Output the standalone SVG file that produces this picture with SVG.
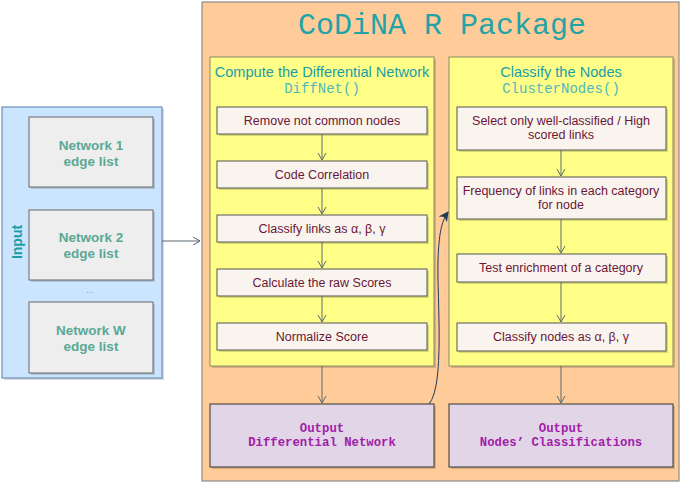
<svg xmlns="http://www.w3.org/2000/svg" width="683" height="484" viewBox="0 0 683 484">
<style>
.sh{fill:#000;opacity:0.15}
.pkg{fill:#ffcc99;stroke:#8a8a8a;stroke-width:1.2}
.in{fill:#cce5ff;stroke:#6c8ebf;stroke-width:1.2}
.net{fill:#eeeeee;stroke:#666;stroke-width:1}
.yel{fill:#ffff88;stroke:#8a8a66;stroke-width:1}
.step{fill:#f9f5ee;stroke:#555;stroke-width:1}
.out{fill:#e1d5e7;stroke:#333;stroke-width:1}
.nt{font-family:"Liberation Sans",Arial,sans-serif;font-weight:bold;font-size:13.5px;fill:#5aa896;text-anchor:middle}
.st{font-family:"Liberation Sans",Arial,sans-serif;font-size:12.5px;fill:#6b1538;text-anchor:middle}
.hd{font-family:"Liberation Sans",Arial,sans-serif;font-size:14.6px;fill:#1a9ea6;text-anchor:middle}
.fn{font-family:"Liberation Mono","Courier New",monospace;font-size:14px;fill:#4fb8bd;text-anchor:middle}
.ot{font-family:"Liberation Mono","Courier New",monospace;font-weight:bold;font-size:12.3px;fill:#a020a8;text-anchor:middle}
.ar{fill:none;stroke:#5a6a70;stroke-width:1}
</style>
<defs>
<marker id="v" markerWidth="10" markerHeight="10" refX="8" refY="5" orient="auto" markerUnits="userSpaceOnUse">
<path d="M1,1 L8,5 L1,9" fill="none" stroke="#5a6a70" stroke-width="1"/>
</marker>
<marker id="f" markerWidth="12" markerHeight="12" refX="9" refY="5" orient="auto" markerUnits="userSpaceOnUse">
<path d="M0,0 L10,5 L0,10 L3,5 Z" fill="#1e3a55"/>
</marker>
</defs>

<g id="package">
<rect class="pkg" x="202" y="2" width="477" height="479"/>
<text x="442" y="34" font-family="'Liberation Mono','Courier New',monospace" font-size="30" fill="#22a3a8" text-anchor="middle">CoDiNA R Package</text>
</g>

<g id="input">
<rect class="sh" x="4" y="109" width="160" height="271"/>
<rect class="in" x="2" y="107" width="160" height="271"/>
<text transform="translate(22,242) rotate(-90)" font-family="'Liberation Sans',Arial,sans-serif" font-weight="bold" font-size="14" fill="#1a9ea6" text-anchor="middle">Input</text>
<text x="90" y="293" font-family="'Liberation Sans',Arial,sans-serif" font-size="9" fill="#5aa896" text-anchor="middle">...</text>
</g>
<g id="net1">
<rect class="sh" x="31" y="119" width="124" height="70"/>
<rect class="net" x="29" y="117" width="124" height="70"/>
<text class="nt" x="91" y="150">Network 1</text>
<text class="nt" x="91" y="166">edge list</text>
</g>
<g id="net2">
<rect class="sh" x="31" y="212" width="124" height="70"/>
<rect class="net" x="29" y="210" width="124" height="70"/>
<text class="nt" x="91" y="242">Network 2</text>
<text class="nt" x="91" y="258">edge list</text>
</g>
<g id="netW">
<rect class="sh" x="31" y="304" width="124" height="71"/>
<rect class="net" x="29" y="302" width="124" height="71"/>
<text class="nt" x="91" y="335">Network W</text>
<text class="nt" x="91" y="351">edge list</text>
</g>

<g id="diffnet">
<rect class="sh" x="212" y="59" width="224" height="309"/>
<rect class="yel" x="210" y="57" width="224" height="309"/>
<text class="hd" x="322" y="77">Compute the Differential Network</text>
<text class="fn" x="322" y="93">DiffNet()</text>
</g>
<g id="cluster">
<rect class="sh" x="451" y="59" width="224" height="309"/>
<rect class="yel" x="449" y="57" width="224" height="309"/>
<text class="hd" x="561" y="77">Classify the Nodes</text>
<text class="fn" x="561" y="93">ClusterNodes()</text>
</g>

<g id="s1"><rect class="sh" x="219" y="109" width="210" height="27"/><rect class="step" x="217" y="107" width="210" height="27"/><text class="st" x="322" y="125">Remove not common nodes</text></g>
<g id="s2"><rect class="sh" x="219" y="163" width="210" height="27"/><rect class="step" x="217" y="161" width="210" height="27"/><text class="st" x="322" y="179">Code Correlation</text></g>
<g id="s3"><rect class="sh" x="219" y="217" width="210" height="27"/><rect class="step" x="217" y="215" width="210" height="27"/><text class="st" x="322" y="233">Classify links as α, β, γ</text></g>
<g id="s4"><rect class="sh" x="219" y="271" width="210" height="27"/><rect class="step" x="217" y="269" width="210" height="27"/><text class="st" x="322" y="287">Calculate the raw Scores</text></g>
<g id="s5"><rect class="sh" x="219" y="325" width="210" height="27"/><rect class="step" x="217" y="323" width="210" height="27"/><text class="st" x="322" y="341">Normalize Score</text></g>

<g id="c1"><rect class="sh" x="459" y="109" width="209" height="43"/><rect class="step" x="457" y="107" width="209" height="43"/><text class="st" x="561" y="125">Select only well-classified / High</text><text class="st" x="561" y="139">scored links</text></g>
<g id="c2"><rect class="sh" x="459" y="179" width="209" height="42"/><rect class="step" x="457" y="177" width="209" height="42"/><text class="st" x="561" y="195">Frequency of links in each category</text><text class="st" x="561" y="209">for node</text></g>
<g id="c3"><rect class="sh" x="459" y="256" width="209" height="28"/><rect class="step" x="457" y="254" width="209" height="28"/><text class="st" x="561" y="272">Test enrichment of a category</text></g>
<g id="c4"><rect class="sh" x="459" y="325" width="209" height="28"/><rect class="step" x="457" y="323" width="209" height="28"/><text class="st" x="561" y="341">Classify nodes as α, β, γ</text></g>

<g id="out1"><rect class="sh" x="212" y="406" width="224" height="63"/><rect class="out" x="210" y="404" width="224" height="63"/><text class="ot" x="322" y="432">Output</text><text class="ot" x="322" y="446">Differential Network</text></g>
<g id="out2"><rect class="sh" x="451" y="406" width="224" height="63"/><rect class="out" x="449" y="404" width="224" height="63"/><text class="ot" x="561" y="432">Output</text><text class="ot" x="561" y="446">Nodes’ Classifications</text></g>

<g id="connectors">
<line class="ar" x1="162" y1="241" x2="200" y2="241" marker-end="url(#v)"/>
<line class="ar" x1="322" y1="134" x2="322" y2="160" marker-end="url(#v)"/>
<line class="ar" x1="322" y1="188" x2="322" y2="214" marker-end="url(#v)"/>
<line class="ar" x1="322" y1="242" x2="322" y2="268" marker-end="url(#v)"/>
<line class="ar" x1="322" y1="296" x2="322" y2="322" marker-end="url(#v)"/>
<line class="ar" x1="322" y1="366" x2="322" y2="403" marker-end="url(#v)"/>
<line class="ar" x1="561" y1="150" x2="561" y2="176" marker-end="url(#v)"/>
<line class="ar" x1="561" y1="219" x2="561" y2="253" marker-end="url(#v)"/>
<line class="ar" x1="561" y1="282" x2="561" y2="322" marker-end="url(#v)"/>
<line class="ar" x1="561" y1="366" x2="561" y2="403" marker-end="url(#v)"/>
<path d="M429,404 C445,385 437,300 438,260 C439,235 441,222 448,212" fill="none" stroke="#1e3a55" stroke-width="1" marker-end="url(#f)"/>
</g>
</svg>
